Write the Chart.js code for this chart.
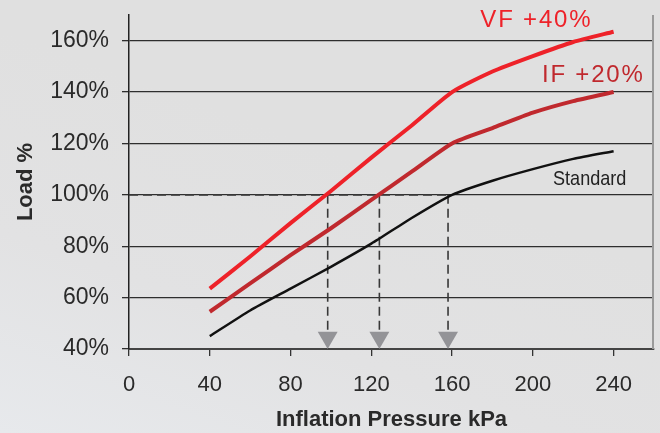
<!DOCTYPE html>
<html>
<head>
<meta charset="utf-8">
<script src="https://cdn.jsdelivr.net/npm/chart.js@4"></script>
<style>
  html, body { margin: 0; padding: 0; overflow: hidden; }
  body {
    width: 660px; height: 433px;
    background: linear-gradient(20deg, #e7e9ec 0%, #e2e2e3 30%, #e0e0e0 60%);
  }
  canvas { display: block; }
</style>
</head>
<body>
<canvas id="loadChart" width="660" height="433"></canvas>
<script>
// inflation pressure (kPa) and load (%)
let pressure = [40, 60, 80, 100, 120, 140, 160, 180, 200, 220, 240];
let standard = [45, 55, 63.5, 72, 81, 91, 100, 105.5, 110, 114, 117];
let if20 = [54.5, 65.5, 76.5, 87, 98, 109, 120, 126, 132, 136.5, 140];
let vf40 = [63.5, 76, 89, 101.5, 114.5, 127, 140, 148, 154, 159.5, 163.5];

// where each curve hits 100% load
let guideX = [98.4, 124, 158];
let guideLoad = 100;

let xTicks = [0, 40, 80, 120, 160, 200, 240];
let yTicks = [40, 60, 80, 100, 120, 140, 160];

let seriesLabels = ["VF +40%", "IF +20%", "Standard"];

function toPoints(ys) {
    return pressure.map((x, i) => ({ x: x, y: ys[i] }));
}

let datasets = [];

// dashed guide lines (drawn underneath everything)
datasets.push({
    data: [{ x: 0, y: guideLoad }, { x: guideX[guideX.length - 1], y: guideLoad }],
    borderColor: "#383838", borderWidth: 1.6, borderDash: [9, 5],
    pointRadius: 0, fill: false, order: 5
});
guideX.forEach(gx => {
    datasets.push({
        data: [{ x: gx, y: guideLoad }, { x: gx, y: yTicks[0] }],
        borderColor: "#383838", borderWidth: 1.6, borderDash: [9, 5],
        pointRadius: 0, fill: false, order: 5
    });
});

// arrow heads, tip resting on the axis
datasets.push({
    type: "scatter",
    data: guideX.map(gx => ({ x: gx, y: 44.5 })),
    pointStyle: "triangle", rotation: 180, pointRadius: 11.5,
    backgroundColor: "#939397", borderWidth: 0, pointHoverRadius: 11.5, order: 0
});

datasets.push({
    label: seriesLabels[2], data: toPoints(standard),
    borderColor: "#111111", borderWidth: 2.5, pointRadius: 0, tension: 0.2, order: 3
});
datasets.push({
    label: seriesLabels[1], data: toPoints(if20),
    borderColor: "#c0292e", borderWidth: 4, pointRadius: 0, tension: 0.2, order: 2
});
datasets.push({
    label: seriesLabels[0], data: toPoints(vf40),
    borderColor: "#ee2229", borderWidth: 4, pointRadius: 0, tension: 0.2, order: 1
});

// labels next to the curves, anchored in data units
let curveLabels = [
    { text: seriesLabels[0], x: 174, y: 165.5, color: "#ee2229", size: 24, spacing: "1.8px", squeeze: 1 },
    { text: seriesLabels[1], x: 204.5, y: 144.1, color: "#c0292e", size: 24, spacing: "1.8px", squeeze: 1 },
    { text: seriesLabels[2], x: 210, y: 103.9, color: "#222222", size: 21, spacing: "0px", squeeze: 0.86 }
];

let extras = {
    id: "extras",
    afterDatasetsDraw(chart) {
        let ctx = chart.ctx;
        let a = chart.chartArea;
        ctx.save();
        // right frame line
        ctx.strokeStyle = "#9a9a9a";
        ctx.lineWidth = 2;
        ctx.beginPath();
        ctx.moveTo(a.right - 1, a.top);
        ctx.lineTo(a.right - 1, a.bottom);
        ctx.stroke();
        // curve labels
        ctx.textAlign = "left";
        ctx.textBaseline = "alphabetic";
        curveLabels.forEach(l => {
            let px = chart.scales.x.getPixelForValue(l.x);
            let py = chart.scales.y.getPixelForValue(l.y);
            ctx.save();
            ctx.font = l.size + "px 'Liberation Sans', Arial, sans-serif";
            ctx.letterSpacing = l.spacing;
            ctx.fillStyle = l.color;
            ctx.translate(px, py);
            ctx.scale(l.squeeze, 1);
            ctx.fillText(l.text, 0, 0);
            ctx.restore();
        });
        ctx.restore();
    }
};

new Chart(document.getElementById("loadChart"), {
    type: "line",
    data: { datasets: datasets },
    plugins: [extras],
    options: {
        responsive: false,
        animation: false,
        layout: { autoPadding: false, padding: { top: 15, right: 6, left: 0, bottom: 0 } },
        plugins: { legend: { display: false }, tooltip: { enabled: false } },
        scales: {
            x: {
                type: "linear", min: 0, max: 260,
                afterFit: s => {
                    s.height = 84;
                    s.paddingLeft = 0;
                    s.paddingRight = 0;
                },
                afterBuildTicks: s => { s.ticks = xTicks.map(v => ({ value: v })); },
                grid: { drawOnChartArea: false, drawTicks: true, tickLength: 7, color: "#333", lineWidth: 1.3 },
                border: { color: "#444", width: 2 },
                ticks: { padding: 16, color: "#2a2a2a", font: { family: "'Liberation Sans', Arial, sans-serif", size: 22 } },
                title: {
                    display: true, text: "Inflation Pressure kPa", color: "#2a2a2a",
                    font: { family: "'Liberation Sans', Arial, sans-serif", size: 22, weight: "bold" },
                    padding: { top: 4, bottom: 0 }
                }
            },
            y: {
                min: 40, max: 170,
                afterFit: s => {
                    s.width = 129;
                    s.paddingTop = 0;
                    s.paddingBottom = 0;
                },
                afterBuildTicks: s => { s.ticks = yTicks.map(v => ({ value: v })); },
                grid: { drawTicks: true, tickLength: 7, color: "#2e2e2e", lineWidth: 1.3 },
                border: { color: "#222", width: 1.5 },
                ticks: {
                    padding: 13, color: "#2a2a2a",
                    font: { family: "'Liberation Sans', Arial, sans-serif", size: 23 },
                    callback: v => v + "%"
                },
                title: {
                    display: true, text: "Load %", color: "#2a2a2a",
                    font: { family: "'Liberation Sans', Arial, sans-serif", size: 22, weight: "bold" },
                    padding: { top: 13, bottom: 0 }
                }
            }
        }
    }
});
</script>
</body>
</html>
